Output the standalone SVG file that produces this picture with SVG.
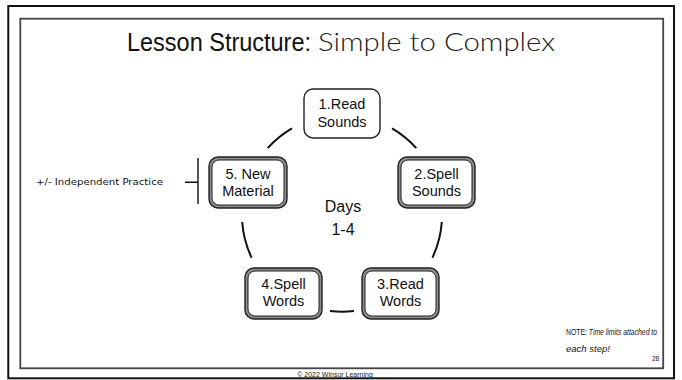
<svg xmlns="http://www.w3.org/2000/svg" width="682" height="380" viewBox="0 0 682 380">
<style>
.frame{fill:none}
.t{font-family:"Liberation Sans",Arial,sans-serif;fill:#111;text-anchor:middle}
.box{font-size:14.5px}
.single{fill:#fff;stroke:#222;stroke-width:1.4}
.dbl-out{fill:#8c8c8c;stroke:#222;stroke-width:1.4}
.dbl-in{fill:#fff;stroke:#222;stroke-width:1}
.conn path{fill:none;stroke:#111;stroke-width:2;stroke-linecap:butt}
.note{font-family:"Liberation Sans",Arial,sans-serif;font-size:9.5px;fill:#111}
</style>
<rect width="682" height="380" fill="#fff"/>
<rect class="frame" x="8.3" y="6" width="665.7" height="372.3" stroke="#111" stroke-width="2"/>
<rect class="frame" x="20.3" y="18.7" width="642.9" height="349.6" stroke="#444" stroke-width="1.8"/>

<g id="title">
<text x="127" y="51" font-family="'Liberation Sans',Arial,sans-serif" font-size="25" fill="#111" textLength="184" lengthAdjust="spacingAndGlyphs">Lesson Structure:</text>
<text x="318" y="51" font-family="Lato,'Liberation Sans',sans-serif" font-weight="300" font-size="25" fill="#222" textLength="237" lengthAdjust="spacingAndGlyphs">Simple to Complex</text>
</g>

<g class="conn" id="connectors">
<path d="M267.7,148.1 A100,100 0 0 1 292,128.4"/>
<path d="M392,128.4 A100,100 0 0 1 416.3,148.1"/>
<path d="M441.8,222 A100,100 0 0 1 432.4,257.7"/>
<path d="M354,311 A100,100 0 0 1 330,311"/>
<path d="M251.6,257.7 A100,100 0 0 1 242.2,222"/>
</g>

<g id="node1">
<rect class="single" x="304" y="89" width="76" height="49" rx="9"/>
<text class="t box" x="342" y="109">1.Read</text>
<text class="t box" x="342" y="127">Sounds</text>
</g>
<g id="node2">
<rect class="dbl-out" x="398" y="157" width="77" height="51" rx="9"/>
<rect class="dbl-in" x="401" y="160" width="71" height="45" rx="7"/>
<text class="t box" x="436.5" y="179">2.Spell</text>
<text class="t box" x="436.5" y="196">Sounds</text>
</g>
<g id="node3">
<rect class="dbl-out" x="362" y="268" width="77" height="51" rx="9"/>
<rect class="dbl-in" x="365" y="271" width="71" height="45" rx="7"/>
<text class="t box" x="400.5" y="289">3.Read</text>
<text class="t box" x="400.5" y="306">Words</text>
</g>
<g id="node4">
<rect class="dbl-out" x="245" y="268" width="77" height="51" rx="9"/>
<rect class="dbl-in" x="248" y="271" width="71" height="45" rx="7"/>
<text class="t box" x="283.5" y="289">4.Spell</text>
<text class="t box" x="283.5" y="306">Words</text>
</g>
<g id="node5">
<rect class="dbl-out" x="209" y="157" width="78" height="51" rx="9"/>
<rect class="dbl-in" x="212" y="160" width="72" height="45" rx="7"/>
<text class="t box" x="248" y="179">5. New</text>
<text class="t box" x="248" y="196">Material</text>
</g>

<g id="center-label">
<text class="t" x="343" y="212" font-size="16">Days</text>
<text class="t" x="343" y="235" font-size="16">1-4</text>
</g>

<g id="practice">
<text x="36" y="185" font-family="'DejaVu Sans',Verdana,sans-serif" font-size="9" fill="#111" textLength="127" lengthAdjust="spacingAndGlyphs">+/- Independent Practice</text>
<path d="M185,182.3 H198 M198,158 V204" fill="none" stroke="#111" stroke-width="1.4"/>
</g>

<g id="note">
<text class="note" transform="translate(566,335) scale(0.72,1)">NOTE: <tspan font-style="italic">Time limits attached to</tspan></text>
<text class="note" x="566" y="352" font-style="italic">each step!</text>
</g>

<text x="655.5" y="361" font-family="'Liberation Sans',Arial,sans-serif" font-size="6.5" fill="#222" text-anchor="middle">28</text>
<text x="335" y="376.5" font-family="'Liberation Sans',Arial,sans-serif" font-size="7" fill="#222" text-anchor="middle">© 2022 Winsor Learning</text>
</svg>
